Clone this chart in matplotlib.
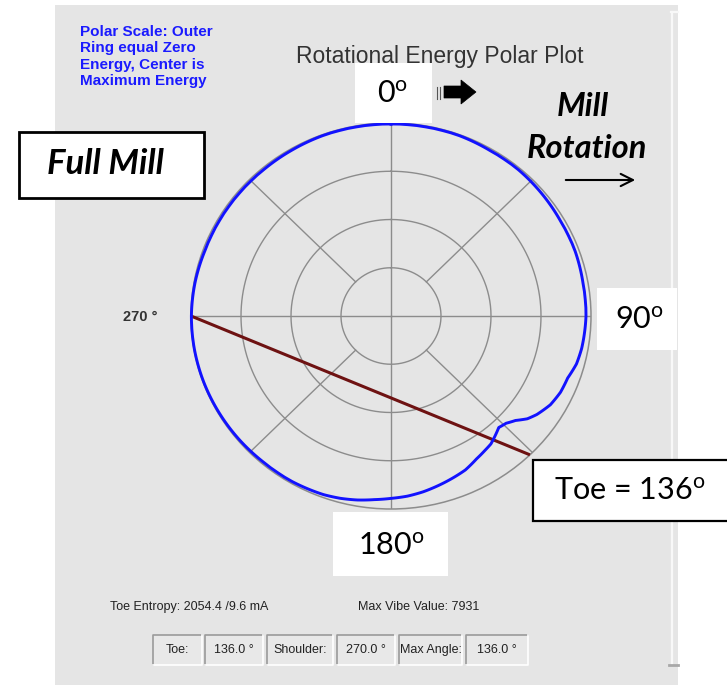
import numpy as np
import matplotlib
matplotlib.use('Agg')
import matplotlib.pyplot as plt
from matplotlib.patches import Rectangle, Polygon, FancyArrowPatch
from matplotlib.lines import Line2D

plt.rcParams['mathtext.fontset'] = 'custom'
plt.rcParams['mathtext.rm'] = 'Lato'
plt.rcParams['mathtext.it'] = 'Lato:italic'
plt.rcParams['mathtext.bf'] = 'Lato:bold'

# ---------------- data ----------------
angles_deg = [0, 10, 20, 30, 40, 50, 60, 70, 80, 90, 100, 105, 110, 115, 120, 125,
              128, 131, 134, 137, 140, 143, 146, 150, 155, 160, 165, 170, 175, 180,
              185, 190, 195, 200, 210, 220, 230, 240, 250, 260, 270, 280, 290, 300,
              310, 320, 330, 340, 350, 360]
energy_radius = [0.995, 0.995, 0.995, 0.99, 0.99, 0.985, 0.98, 0.98, 0.975, 0.975,
                 0.968, 0.96, 0.94, 0.935, 0.92, 0.89, 0.865, 0.825, 0.80, 0.79,
                 0.81, 0.83, 0.84, 0.855, 0.88, 0.895, 0.91, 0.925, 0.937, 0.945,
                 0.955, 0.968, 0.978, 0.985, 0.99, 0.99, 0.993, 0.995, 0.997, 0.998,
                 0.998, 0.995, 0.99, 0.99, 0.99, 0.99, 0.992, 0.995, 0.995, 0.995]
shoulder_deg = 270.0
toe_deg = 136.0
max_angle_deg = 136.0
toe_entropy = 2054.4
toe_current = 9.6
max_vibe = 7931
ring_levels = [0.25, 0.5, 0.75]
spoke_angles = [0, 45, 90, 135, 180, 225, 270, 315]

# ---------------- figure ----------------
W, H = 727, 685
fig = plt.figure(figsize=(W / 100, H / 100), dpi=100)
fig.patch.set_facecolor('white')


def X(px):
    return px / W


def Y(py):
    return 1 - py / H


def rect(x0, y0, x1, y1, **kw):
    r = Rectangle((X(x0), Y(y1)), X(x1) - X(x0), Y(y0) - Y(y1),
                  transform=fig.transFigure, **kw)
    fig.add_artist(r)
    return r


# gray panel
rect(55, 5, 678, 690, fc='#e5e5e5', ec='none', zorder=0)
fig.add_artist(Line2D([X(671.5)] * 2, [Y(12), Y(664)], color='#f8f8f8', lw=1.6,
                      transform=fig.transFigure, zorder=1))
fig.add_artist(Line2D([X(671), X(678)], [Y(12)] * 2, color='#f8f8f8', lw=1.6,
                      transform=fig.transFigure, zorder=1))
fig.add_artist(Line2D([X(669), X(678)], [Y(665)] * 2, color='#a8a8a8', lw=2,
                      transform=fig.transFigure, zorder=1))

# polar axes (slightly elliptical, as in the screenshot)
cx, cy, rx, ry = 391, 316, 200, 193
ax = fig.add_axes([X(cx - rx), Y(cy + ry), 2 * rx / W, 2 * ry / H], projection='polar')
ax.set_aspect('auto')
ax.patch.set_alpha(0)
ax.set_theta_zero_location('N')
ax.set_theta_direction(-1)
ax.set_ylim(0, 1)
ax.grid(False)
ax.set_xticks([])
ax.set_yticks([])
ax.spines['polar'].set_color('#8c8c8c')
ax.spines['polar'].set_linewidth(1.1)

grid_c = '#8c8c8c'
th = np.linspace(0, 2 * np.pi, 361)
for r in ring_levels:
    ax.plot(th, np.full_like(th, r), color=grid_c, lw=1.0, zorder=2)
for a in spoke_angles:
    r0 = 0 if a % 90 == 0 else ring_levels[0]
    ax.plot([np.deg2rad(a)] * 2, [r0, 1], color=grid_c, lw=1.0, zorder=2)

ax.plot(np.deg2rad([shoulder_deg, toe_deg]), [1, 1], color='#6e1212', lw=2.2,
        zorder=4, clip_on=False, solid_capstyle='butt')
blue, = ax.plot(np.deg2rad(angles_deg), energy_radius, color='#1212ff', lw=2.1, zorder=5,
                clip_on=False)
blue.get_path()._interpolation_steps = 16  # follow polar arcs between samples

# ---------------- texts ----------------
fig.text(X(80), Y(25), "Polar Scale: Outer\nRing equal Zero\nEnergy, Center is\nMaximum Energy",
         color='#1a1aff', fontsize=11, fontweight='bold', family='Liberation Sans',
         ha='left', va='top', linespacing=1.22, zorder=3)
fig.text(X(440), Y(56), 'Rotational Energy Polar Plot', fontsize=16.5, color='#333333',
         family='Liberation Sans', ha='center', va='center', zorder=3)

big = dict(family='Lato', fontsize=22, color='black', ha='center', va='center', zorder=11)
deg = r'$^{\mathrm{o}}$'

rect(355, 63, 432, 123, fc='white', ec='none', zorder=10)
fig.text(X(393), Y(94), '0' + deg, **big)

rect(597, 288, 677, 350, fc='white', ec='none', zorder=10)
fig.text(X(639), Y(320), f'{int(shoulder_deg - 180)}' + deg, **big)

rect(333, 512, 448, 576, fc='white', ec='none', zorder=10)
fig.text(X(391), Y(546), '180' + deg, **big)

rect(533, 460, 740, 521, fc='white', ec='black', lw=1.6, zorder=10)
fig.text(X(630), Y(491), f'Toe = {int(toe_deg)}' + deg, **big)

rect(19, 132, 204, 198, fc='white', ec='black', lw=2, zorder=10)
fig.text(X(105), Y(164), 'Full Mill', family='Lato', fontsize=25, fontweight='bold',
         fontstyle='italic', ha='center', va='center', zorder=11)

fig.text(X(583), Y(107), 'Mill', family='Lato', fontsize=23.5, fontweight='bold',
         fontstyle='italic', ha='center', va='center', zorder=11)
fig.text(X(587), Y(148), 'Rotation', family='Lato', fontsize=23.5, fontweight='bold',
         fontstyle='italic', ha='center', va='center', zorder=11)

fig.add_artist(FancyArrowPatch((X(563), Y(180)), (X(638), Y(180)),
                               arrowstyle='->', mutation_scale=22, lw=1.5,
                               color='black', transform=fig.transFigure, zorder=11))

arrow_px = [(444, 86), (461, 86), (461, 80), (476, 92), (461, 104), (461, 98), (444, 98)]
fig.add_artist(Polygon([(X(a), Y(b)) for a, b in arrow_px], closed=True, fc='black',
                       ec='black', lw=0.5, transform=fig.transFigure, zorder=11))
for dx in (0, 3):
    fig.add_artist(Line2D([X(440 - dx)] * 2, [Y(87), Y(99)], color='#555555', lw=0.8,
                          transform=fig.transFigure, zorder=11))

fig.text(X(123), Y(317), f'{int(shoulder_deg)} °', fontsize=10.5, fontweight='bold',
         color='#333333', family='Liberation Sans', ha='left', va='center', zorder=3)

small = dict(fontsize=9, color='#222222', family='Liberation Sans', va='center', zorder=3)
fig.text(X(110), Y(607), f'Toe Entropy: {toe_entropy:.1f} /{toe_current:.1f} mA', ha='left', **small)
fig.text(X(358), Y(607), f'Max Vibe Value: {max_vibe}', ha='left', **small)

boxes = [(153, 202, 'Toe:'), (205, 263, f'{toe_deg:.1f} °'),
         (267, 333, 'Shoulder:'), (337, 395, f'{shoulder_deg:.1f} °'),
         (399, 462, 'Max Angle:'), (466, 528, f'{max_angle_deg:.1f} °')]
for x0, x1, lab in boxes:
    rect(x0, 635, x1, 665, fc='#e8e8e8', ec='none', zorder=2)
    fig.add_artist(Line2D([X(x0), X(x0), X(x1)], [Y(665), Y(635), Y(635)], color='#9a9a9a',
                          lw=1.2, transform=fig.transFigure, zorder=3))
    fig.add_artist(Line2D([X(x0), X(x1), X(x1)], [Y(665), Y(665), Y(635)], color='#ffffff',
                          lw=1.2, transform=fig.transFigure, zorder=3))
    fig.text(X((x0 + x1) / 2), Y(650), lab, ha='center', **small)

fig.savefig('out.png', dpi=100, facecolor='white')
